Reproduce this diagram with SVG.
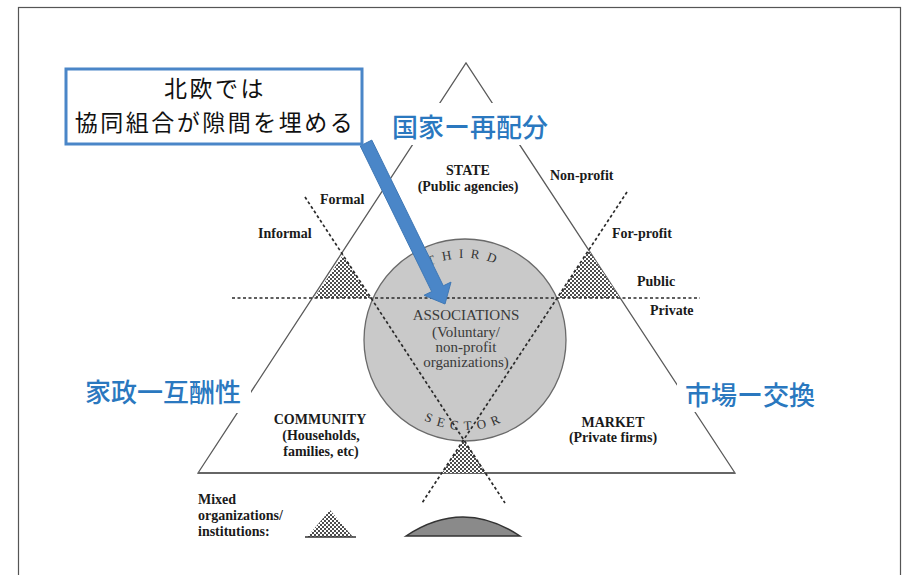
<svg xmlns="http://www.w3.org/2000/svg" width="904" height="575" viewBox="0 0 904 575">
<defs>
<pattern id="dots" width="4" height="4" patternUnits="userSpaceOnUse"><rect width="4" height="4" fill="#fff"/><circle cx="1" cy="1" r="1" fill="#111"/><circle cx="3" cy="3" r="1" fill="#111"/></pattern>
<path id="arcTop" d="M383,340 A82,82 0 0 1 547,340"/>
<path id="arcBot" d="M375,340 A90,90 0 0 0 555,340"/>
</defs>
<style>
.edge{fill:none;stroke:#5a5a5a;stroke-width:1.3}
.dash{fill:none;stroke:#2a2a2a;stroke-width:1.7;stroke-dasharray:3 2.5}
.stip{fill:url(#dots);stroke:none}
.lbl{font-family:"Liberation Serif",serif;font-weight:bold;font-size:14px;fill:#1a1a1a}
.mid{text-anchor:middle}
.assoc{font-family:"Liberation Serif",serif;font-size:15px;fill:#3a3a3a;text-anchor:middle}
.arc{font-family:"Liberation Serif",serif;font-size:13px;fill:#333;text-anchor:middle}
.jp{font-family:"Noto Sans CJK JP",sans-serif;font-size:26px;font-weight:500;fill:#2a78bf}
.bg{fill:#fff}
.note{font-family:"Noto Sans CJK JP",sans-serif;font-size:23px;letter-spacing:2.5px;fill:#111;text-anchor:middle}
</style>
<rect x="0" y="0" width="904" height="575" fill="#fff"/>
<rect x="18.5" y="7.5" width="882" height="590" fill="none" stroke="#555" stroke-width="1.2"/>

<g id="triangle">
<path class="edge" d="M198,473 L466,63 L735,473 Z"/>
<line x1="198" y1="473" x2="735" y2="473" stroke="#666" stroke-width="2"/>
</g>

<g id="mixed-zones">
<polygon class="stip" points="343,255 314,298 370,298"/>
<polygon class="stip" points="589,251 557,298 620,298"/>
<polygon class="stip" points="464,440 442,473 486,473"/>
</g>

<g id="third-sector">
<circle cx="465" cy="340" r="101" fill="#c9c9c9" stroke="#6a6a6a" stroke-width="1.3"/>
<text class="arc" letter-spacing="7"><textPath href="#arcTop" startOffset="50%">THIRD</textPath></text>
<text class="arc" letter-spacing="6"><textPath href="#arcBot" startOffset="50%">SECTOR</textPath></text>
<text class="assoc" x="466" y="320">ASSOCIATIONS</text>
<text class="assoc" x="466" y="337">(Voluntary/</text>
<text class="assoc" x="466" y="352">non-profit</text>
<text class="assoc" x="466" y="367">organizations)</text>
</g>

<g id="connectors">
<line class="dash" x1="232" y1="298" x2="700" y2="298"/>
<line class="dash" x1="305" y1="197" x2="505" y2="503"/>
<line class="dash" x1="627" y1="192" x2="422" y2="503"/>
</g>

<g id="state">
<text class="lbl mid" x="468" y="175">STATE</text>
<text class="lbl mid" x="468" y="191">(Public agencies)</text>
</g>
<g id="community">
<text class="lbl mid" x="320" y="424">COMMUNITY</text>
<text class="lbl mid" x="321" y="440">(Households,</text>
<text class="lbl mid" x="321" y="456">families, etc)</text>
</g>
<g id="market">
<text class="lbl mid" x="613" y="427">MARKET</text>
<text class="lbl mid" x="613" y="442">(Private firms)</text>
</g>
<g id="axis-labels">
<text class="lbl" x="550" y="180">Non-profit</text>
<text class="lbl" x="612" y="238">For-profit</text>
<text class="lbl" x="637" y="286">Public</text>
<text class="lbl" x="650" y="315">Private</text>
<text class="lbl" x="320" y="204">Formal</text>
<text class="lbl" x="258" y="238">Informal</text>
</g>

<g id="legend">
<text class="lbl" x="198" y="504">Mixed</text>
<text class="lbl" x="198" y="520">organizations/</text>
<text class="lbl" x="198" y="536">institutions:</text>
<polygon class="stip" points="330,510 307,537 353,537"/>
<line x1="305" y1="537" x2="356" y2="537" stroke="#333" stroke-width="1.3"/>
<path d="M406,536 Q463,498 520,536 Z" fill="#8a8a8a" stroke="#333" stroke-width="1.5"/>
</g>

<g id="label-state">
<rect class="bg" x="386" y="103" width="166" height="42"/>
<text class="jp" x="392" y="137">国家ー再配分</text>
</g>
<g id="label-household">
<rect class="bg" x="78" y="374" width="173" height="39"/>
<text class="jp" x="85" y="402">家政一互酬性</text>
</g>
<g id="label-market">
<rect class="bg" x="677" y="381" width="146" height="31"/>
<text class="jp" x="685" y="405">市場ー交換</text>
</g>

<g id="arrow">
<polygon points="360.2,145.9 371.8,140.1 443.3,285.8 451,282.1 445,304 424,295.3 431.7,291.6" fill="#4a86c8" stroke="#3f78b5" stroke-width="1"/>
</g>

<g id="note">
<rect x="66" y="69" width="296" height="75" fill="#fff" stroke="#4a86c8" stroke-width="3"/>
<text class="note"><tspan x="215" y="97">北欧では</tspan><tspan x="215" y="131">協同組合が隙間を埋める</tspan></text>
</g>
</svg>
